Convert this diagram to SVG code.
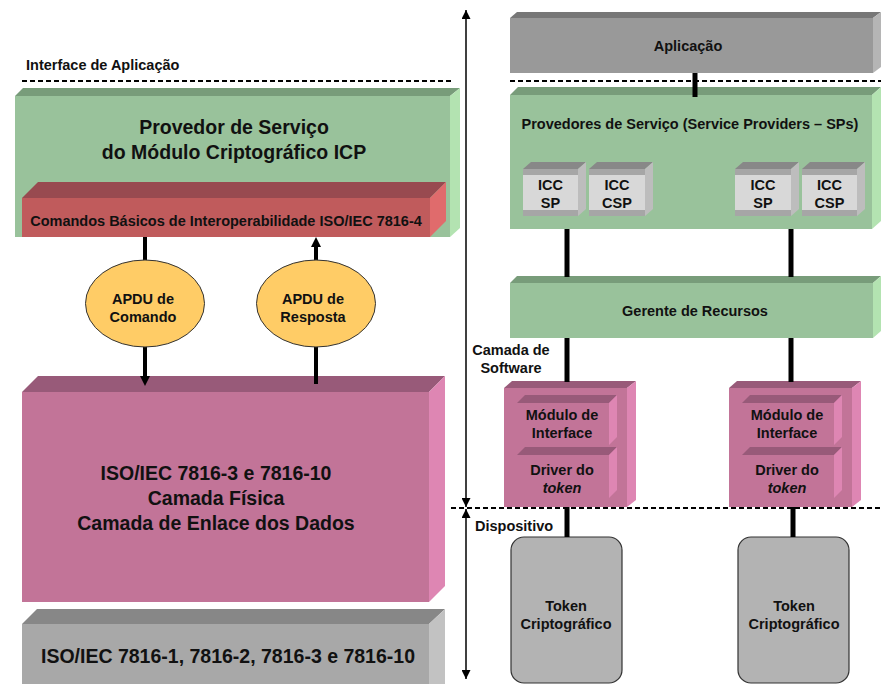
<svg xmlns="http://www.w3.org/2000/svg" width="881" height="684" viewBox="0 0 881 684">
<style>
text{font-family:"Liberation Sans",Arial,sans-serif;font-weight:bold;fill:#111;}
.s{font-size:14.5px;}
.b{font-size:19.5px;}
.m{text-anchor:middle;}
.gf{fill:#99c29b}.gt{fill:#789c7a}.gs{fill:#b3e3b1}
.rf{fill:#c05b5c}.rt{fill:#984a50}.rs{fill:#e06b6c}
.pf{fill:#c27498}.pt{fill:#985a79}.ps{fill:#de86b3}
.yf{fill:#a8a8a8}.yt{fill:#878787}.ys{fill:#c2c2c2}
.af{fill:#999999}.at{fill:#777777}.as{fill:#b5b5b5}
.it{fill:#888888}.ib{fill:#a6a6a6}.il{fill:#d8d8d8}.is{fill:#bdbdbd}
.dash{stroke:#000;stroke-width:1.8;stroke-dasharray:5,3;fill:none}
.con{stroke:#000;stroke-width:5;fill:none}
.ax{stroke:#000;stroke-width:1.5;fill:none}
</style>
<defs>
<marker id="ah" markerUnits="userSpaceOnUse" markerWidth="9" markerHeight="9" refX="9" refY="4.5" orient="auto-start-reverse">
<path d="M0,0 L9,4.5 L0,9 z" fill="#000"/>
</marker>
</defs>

<!-- dashed lines -->
<line class="dash" x1="22" y1="81" x2="453" y2="81"/>
<line class="dash" x1="510" y1="81" x2="881" y2="81"/>
<line class="dash" x1="451" y1="508" x2="881" y2="508"/>

<text class="s" x="26" y="70">Interface de Aplicação</text>

<!-- Left column -->
<g id="provedor-icp">
<polygon class="gt" points="15,96 23,88 460,88 450,96"/>
<polygon class="gs" points="450,96 460,88 460,228 450,237"/>
<rect class="gf" x="15" y="96" width="435" height="141"/>
<text class="b m" x="234" y="134">Provedor de Serviço</text>
<text class="b m" x="234" y="159">do Módulo Criptográfico ICP</text>
</g>
<g id="comandos-basicos">
<polygon class="rt" points="22,198 38,182 446,182 430,198"/>
<polygon class="rs" points="430,198 446,182 446,221 430,237"/>
<rect class="rf" x="22" y="198" width="408" height="39"/>
<text class="s m" x="226" y="226">Comandos Básicos de Interoperabilidade ISO/IEC 7816-4</text>
</g>
<g id="camada-fisica">
<polygon class="pt" points="22,392 38,376 445,376 429,392"/>
<polygon class="ps" points="429,392 445,376 445,586 429,602"/>
<rect class="pf" x="22" y="392" width="407" height="210"/>
<text class="b m" x="216" y="480">ISO/IEC 7816-3 e 7816-10</text>
<text class="b m" x="216" y="505">Camada Física</text>
<text class="b m" x="216" y="530">Camada de Enlace dos Dados</text>
</g>
<g id="iso-7816">
<polygon class="yt" points="22,624 37,609 445,609 429,624"/>
<polygon class="ys" points="429,624 445,609 445,690 429,690"/>
<rect class="yf" x="22" y="624" width="407" height="66"/>
<text class="b m" x="228" y="663">ISO/IEC 7816-1, 7816-2, 7816-3 e 7816-10</text>
</g>

<!-- Right column -->
<g id="aplicacao">
<polygon class="at" points="510,18 517,12 881,12 873,18"/>
<polygon class="as" points="873,18 881,12 881,67 873,73"/>
<rect class="af" x="510" y="18" width="363" height="55"/>
<text class="s m" x="688" y="51">Aplicação</text>
</g>
<g id="provedores-sp">
<polygon class="gt" points="510,95 518,87 881,87 872,95"/>
<polygon class="gs" points="872,95 881,87 881,221 872,229"/>
<rect class="gf" x="510" y="95" width="362" height="134"/>
<text class="s m" x="690" y="129">Provedores de Serviço (Service Providers – SPs)</text>
</g>
<g id="icc-sp-1">
<polygon class="it" points="523,169 531,162 586,162 578,169"/>
<polygon class="is" points="578,169 586,162 586,209 578,216"/>
<rect class="ib" x="523" y="169" width="55" height="47"/>
<rect class="il" x="523" y="175" width="55" height="35"/>
<text class="s m" x="550.5" y="190">ICC</text>
<text class="s m" x="550.5" y="208">SP</text>
</g>
<g id="icc-csp-1">
<polygon class="it" points="589,169 597,162 653,162 645,169"/>
<polygon class="is" points="645,169 653,162 653,209 645,216"/>
<rect class="ib" x="589" y="169" width="56" height="47"/>
<rect class="il" x="589" y="175" width="56" height="35"/>
<text class="s m" x="617" y="190">ICC</text>
<text class="s m" x="617" y="208">CSP</text>
</g>
<g id="icc-sp-2">
<polygon class="it" points="735,169 743,162 799,162 791,169"/>
<polygon class="is" points="791,169 799,162 799,209 791,216"/>
<rect class="ib" x="735" y="169" width="56" height="47"/>
<rect class="il" x="735" y="175" width="56" height="35"/>
<text class="s m" x="763" y="190">ICC</text>
<text class="s m" x="763" y="208">SP</text>
</g>
<g id="icc-csp-2">
<polygon class="it" points="802,169 810,162 865,162 857,169"/>
<polygon class="is" points="857,169 865,162 865,209 857,216"/>
<rect class="ib" x="802" y="169" width="55" height="47"/>
<rect class="il" x="802" y="175" width="55" height="35"/>
<text class="s m" x="829.5" y="190">ICC</text>
<text class="s m" x="829.5" y="208">CSP</text>
</g>
<g id="gerente">
<polygon class="gt" points="510,283 517,276 881,276 873,283"/>
<polygon class="gs" points="873,283 881,276 881,331 873,338"/>
<rect class="gf" x="510" y="283" width="363" height="55"/>
<text class="s m" x="695" y="316">Gerente de Recursos</text>
</g>

<text class="s m" x="511" y="355">Camada de</text>
<text class="s m" x="511" y="373">Software</text>
<text class="s" x="475" y="531">Dispositivo</text>

<g id="driver-1">
<polygon class="pt" points="504,388 512,381 636,381 627,388"/>
<polygon class="ps" points="627,388 636,381 636,500 627,507"/>
<rect class="pf" x="504" y="388" width="123" height="119"/>
<polygon class="pt" points="517,403 525,395 617,395 609,403"/>
<polygon class="ps" points="609,403 617,395 617,437 609,445"/>
<rect class="pf" x="517" y="403" width="92" height="42"/>
<polygon class="pt" points="517,455 525,447 617,447 609,455"/>
<polygon class="ps" points="609,455 617,447 617,490 609,498"/>
<rect class="pf" x="517" y="455" width="92" height="43"/>
<text class="s m" x="562" y="420">Módulo de</text>
<text class="s m" x="562" y="438">Interface</text>
<text class="s m" x="562" y="475">Driver do</text>
<text class="s m" x="562" y="493" font-style="italic">token</text>
</g>
<g id="driver-2">
<polygon class="pt" points="729,388 737,381 861,381 852,388"/>
<polygon class="ps" points="852,388 861,381 861,500 852,507"/>
<rect class="pf" x="729" y="388" width="123" height="119"/>
<polygon class="pt" points="742,403 750,395 842,395 834,403"/>
<polygon class="ps" points="834,403 842,395 842,437 834,445"/>
<rect class="pf" x="742" y="403" width="92" height="42"/>
<polygon class="pt" points="742,455 750,447 842,447 834,455"/>
<polygon class="ps" points="834,455 842,447 842,490 834,498"/>
<rect class="pf" x="742" y="455" width="92" height="43"/>
<text class="s m" x="787" y="420">Módulo de</text>
<text class="s m" x="787" y="438">Interface</text>
<text class="s m" x="787" y="475">Driver do</text>
<text class="s m" x="787" y="493" font-style="italic">token</text>
</g>
<g id="token-1">
<rect x="511" y="537" width="111" height="146" rx="13" fill="#b3b3b3" stroke="#333" stroke-width="1.2"/>
<text class="s m" x="566" y="611">Token</text>
<text class="s m" x="566" y="629">Criptográfico</text>
</g>
<g id="token-2">
<rect x="738" y="537" width="111" height="146" rx="13" fill="#b3b3b3" stroke="#333" stroke-width="1.2"/>
<text class="s m" x="794" y="611">Token</text>
<text class="s m" x="794" y="629">Criptográfico</text>
</g>

<!-- connectors -->
<g id="connectors">
<line class="con" x1="695" y1="73" x2="695" y2="97"/>
<line class="con" x1="567" y1="229" x2="567" y2="277"/>
<line class="con" x1="791" y1="229" x2="791" y2="277"/>
<line class="con" x1="567" y1="338" x2="567" y2="382"/>
<line class="con" x1="791" y1="338" x2="791" y2="382"/>
<line class="con" x1="567" y1="507" x2="567" y2="537"/>
<line class="con" x1="793" y1="507" x2="793" y2="537"/>
<line stroke="#000" stroke-width="4" x1="145" y1="237" x2="145" y2="377"/>
<polygon points="140,376 150,376 145,386" fill="#000"/>
<line stroke="#000" stroke-width="4" x1="316" y1="384" x2="316" y2="246"/>
<polygon points="311,247 321,247 316,237" fill="#000"/>
<line class="ax" x1="466" y1="10" x2="466" y2="507" marker-start="url(#ah)" marker-end="url(#ah)"/>
<line class="ax" x1="466" y1="509" x2="466" y2="679" marker-start="url(#ah)" marker-end="url(#ah)"/>
</g>

<g id="apdu-comando">
<ellipse cx="145" cy="303.5" rx="59.5" ry="43.5" fill="#ffcc66" stroke="#333" stroke-width="1"/>
<text class="s m" x="143" y="304">APDU de</text>
<text class="s m" x="143" y="322">Comando</text>
</g>
<g id="apdu-resposta">
<ellipse cx="316" cy="303.5" rx="59.5" ry="43.5" fill="#ffcc66" stroke="#333" stroke-width="1"/>
<text class="s m" x="313" y="304">APDU de</text>
<text class="s m" x="313" y="322">Resposta</text>
</g>
</svg>
